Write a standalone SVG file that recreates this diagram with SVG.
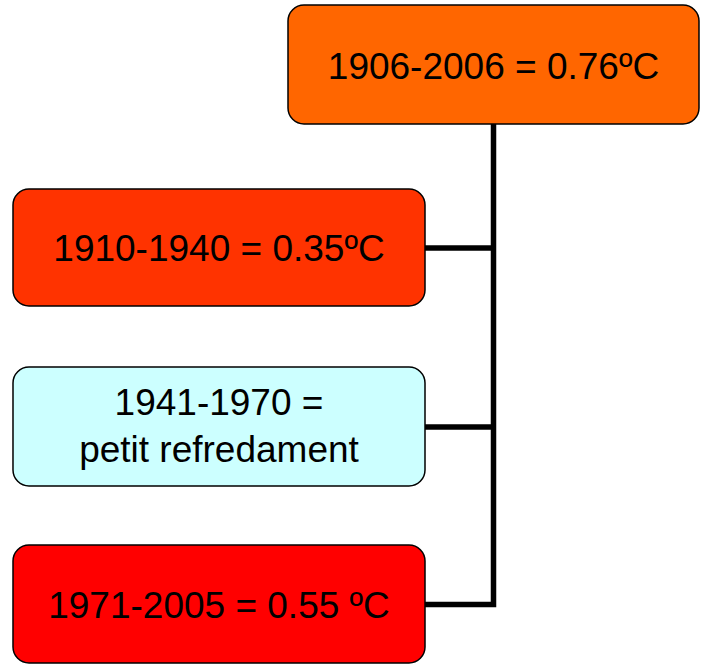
<svg xmlns="http://www.w3.org/2000/svg" width="703" height="664" viewBox="0 0 703 664">
<style>
.box{stroke:#000;stroke-width:1.5}
.t{font-family:"Liberation Sans",Arial,sans-serif;font-size:37px;fill:#000;text-anchor:middle}
.c{fill:none;stroke:#000;stroke-width:5.5}
</style>
<rect width="703" height="664" fill="#fff"/>
<g id="connectors">
<path class="c" d="M493.5,124 V604.5 H425"/>
<path class="c" d="M493.5,248 H425"/>
<path class="c" d="M493.5,427 H425"/>
</g>
<g id="n0">
<rect class="box" x="288" y="5" width="411" height="119" rx="16" fill="#FF6600"/>
<text class="t" x="493.5" y="79">1906-2006 = 0.76ºC</text>
</g>
<g id="n1">
<rect class="box" x="13" y="189" width="412" height="117" rx="16" fill="#FF3300"/>
<text class="t" x="219" y="261">1910-1940 = 0.35ºC</text>
</g>
<g id="n2">
<rect class="box" x="13" y="367" width="412" height="119" rx="16" fill="#CCFFFF"/>
<text class="t" x="219" y="415">1941-1970 =</text>
<text class="t" x="219" y="462">petit refredament</text>
</g>
<g id="n3">
<rect class="box" x="13" y="545" width="412" height="118" rx="16" fill="#FF0000"/>
<text class="t" x="219" y="618">1971-2005 = 0.55 ºC</text>
</g>
</svg>
